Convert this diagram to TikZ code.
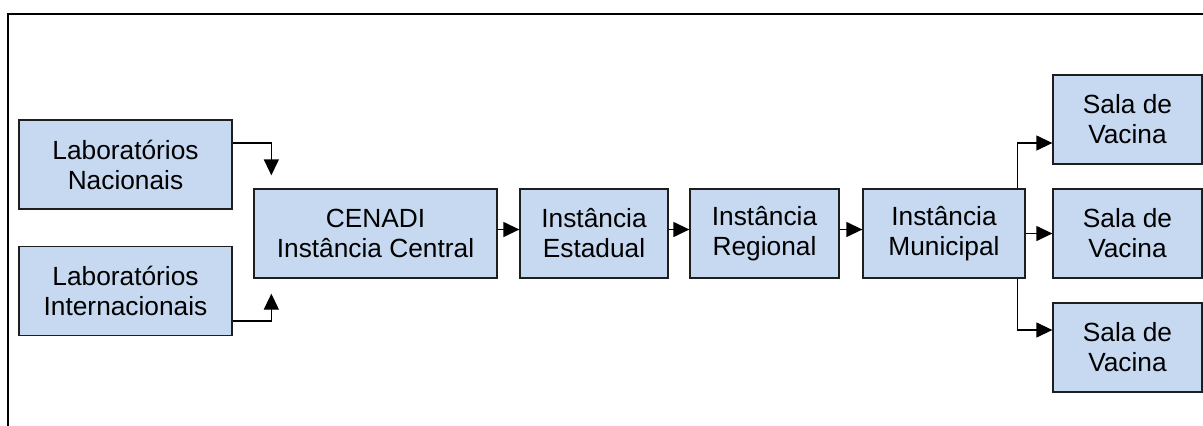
\documentclass[tikz,border=0pt]{standalone}
\usepackage{fontspec}
\setmainfont{Liberation Sans}
\usepackage{tikz}
\usetikzlibrary{arrows.meta, positioning, calc}
\definecolor{boxblue}{RGB}{198, 217, 240}
\definecolor{linegray}{RGB}{30, 30, 30}

\tikzset{
    stage/.style={draw=linegray, line width=1.3pt, fill=boxblue, align=center,
        minimum height=89pt, inner sep=0pt, font=\fontsize{26.3}{30}\selectfont},
    flow/.style={draw=black, line width=1.3pt, -{Triangle[length=16pt,width=15pt]}}
}

\begin{document}
\begin{tikzpicture}[x=1pt, y=-1pt]
\useasboundingbox (0,0) rectangle (1203,426);
% frame round the chart
\draw[line width=1.2pt] (8,426) -- (8,14) -- (1203,14);

% suppliers
\node[stage, minimum width=213pt] (nac) at (125.5,164.5) {Laboratórios\\Nacionais};
\node[stage, minimum width=213pt] (int) at (125.5,291) {Laboratórios\\Internacionais};

% chain of instances
\node[stage, minimum width=243pt] (cenadi) at (375.5,233.5) {CENADI\\Instância Central};
\node[stage, minimum width=148pt] (est) at (594,233.5) {Instância\\Estadual};
\node[stage, minimum width=149pt] (reg) at (764.5,233.5) {Instância\\Regional};
\node[stage, minimum width=162pt] (mun) at (944,233.5) {Instância\\Municipal};

% vaccination rooms
\node[stage, minimum width=149pt] (sala1) at (1127.5,119.5) {Sala de\\Vacina};
\node[stage, minimum width=149pt] (sala2) at (1127.5,233.5) {Sala de\\Vacina};
\node[stage, minimum width=149pt] (sala3) at (1127.5,347.5) {Sala de\\Vacina};

% connectors
\draw[flow] ([yshift=21.5pt]nac.east) -| ([xshift=18pt,yshift=13pt]cenadi.north west);
\draw[flow] ([yshift=-30pt]int.east) -| ([xshift=18pt,yshift=-15pt]cenadi.south west);
\draw[flow] ([yshift=4pt]cenadi.east) -- ([yshift=4pt]est.west);
\draw[flow] ([yshift=4pt]est.east) -- ([yshift=4pt]reg.west);
\draw[flow] ([yshift=4pt]reg.east) -- ([yshift=4pt]mun.west);
\draw[flow] ([xshift=-8pt]mun.north east) |- ([yshift=-23.5pt]sala1.west);
\draw[flow] (mun.east) -- (sala2.west);
\draw[flow] ([xshift=-8pt]mun.south east) |- ([yshift=17.5pt]sala3.west);
\end{tikzpicture}
\end{document}
